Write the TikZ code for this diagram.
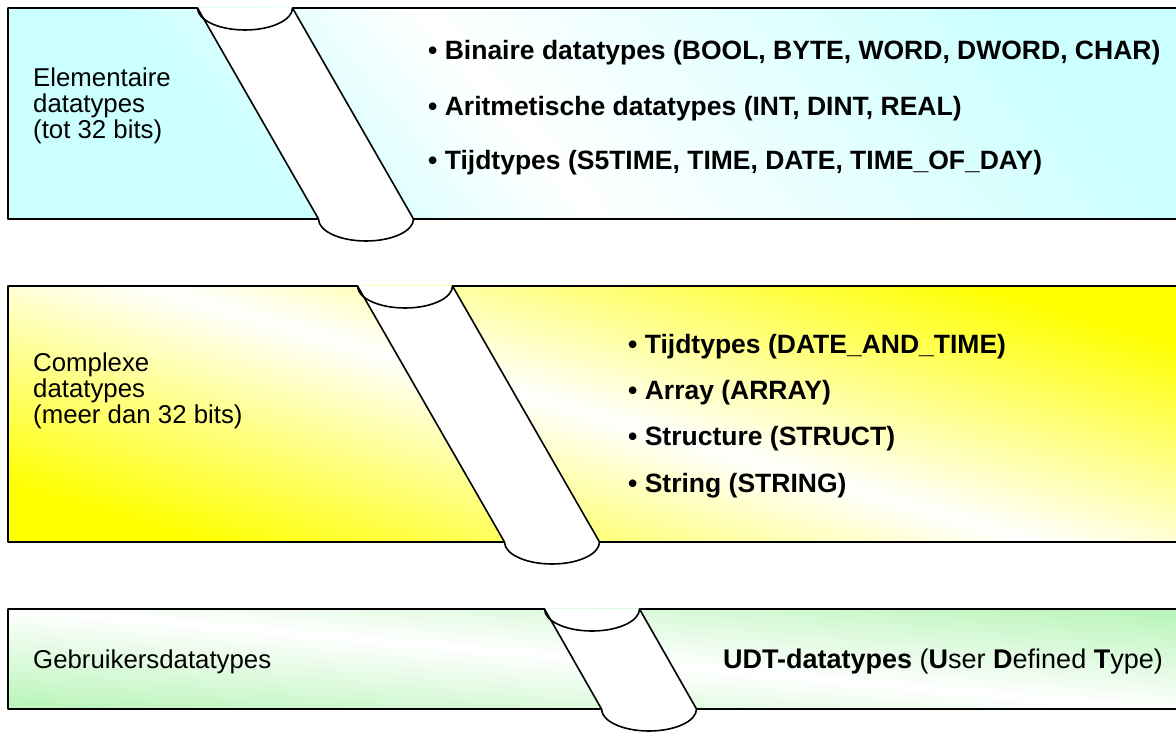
\documentclass[tikz,border=0pt]{standalone}
\usepackage{fontspec}
\setmainfont{Liberation Sans}
\definecolor{cyanC}{HTML}{CCFFFF}
\definecolor{yellowC}{HTML}{FFFF00}
\definecolor{greenC}{HTML}{BDF5BD}
\pgfdeclareverticalshading{blueband}{100bp}{color(0bp)=(cyanC); color(30bp)=(cyanC); color(45.5bp)=(white); color(76bp)=(cyanC); color(100bp)=(cyanC)}
\pgfdeclareverticalshading{yellowband}{100bp}{color(0bp)=(yellowC); color(25bp)=(yellowC); color(50bp)=(white); color(75bp)=(yellowC); color(100bp)=(yellowC)}
\pgfdeclareverticalshading{greenband}{100bp}{color(0bp)=(greenC); color(25bp)=(greenC); color(50bp)=(white); color(75bp)=(greenC); color(100bp)=(greenC)}
\newcommand\tubeband[5]{%
  \shade[#5] (8,#2) rectangle (1176,#1);
  \fill[white] (#3-47.5,#1) -- (#4-47.5,#2) arc[start angle=180,end angle=360,x radius=47.5,y radius=22] -- (#3+47.5,#1) -- cycle;
  \draw[edge] (1176,#1) -- (#3+47.5,#1) arc[start angle=0,end angle=-180,x radius=47.5,y radius=22] -- (8,#1) -- (8,#2) -- (#4-47.5,#2) arc[start angle=180,end angle=360,x radius=47.5,y radius=22] -- (1176,#2);
  \draw[edge] (#3-47.5,#1) -- (#4-47.5,#2);
  \draw[edge] (#3+47.5,#1) -- (#4+47.5,#2);
}
\begin{document}
\begin{tikzpicture}[x=1pt,y=1pt,
  edge/.style={line width=1.6pt, line join=round, draw=black},
  lbl/.style={anchor=west, inner sep=0pt, align=left, font=\fontsize{25.8}{25.8}\selectfont},
  item/.style={anchor=west, inner sep=0pt, font=\fontsize{26.5}{28}\selectfont\bfseries},
  bluefill/.style={shading=blueband, shading angle=-50},
  yellowfill/.style={shading=yellowband, shading angle=-16},
  greenfill/.style={shading=greenband, shading angle=-5},
]
\useasboundingbox (0,0) rectangle (1176,753);
\fill[white] (0,0) rectangle (1176,753);
% band 1 (blue)
\tubeband{745}{534}{245}{366}{bluefill}
% band 2 (yellow)
\tubeband{467}{211}{405}{552}{yellowfill}
% band 3 (green)
\tubeband{144}{44}{592}{649}{greenfill}

\node[lbl] (l1) at (33,647) {Elementaire\\datatypes\\(tot 32 bits)};
\node[item] (b1) at (428,700) {• Binaire datatypes (BOOL, BYTE, WORD, DWORD, CHAR)};
\node[item] (b2) at (428,644) {• Aritmetische datatypes (INT, DINT, REAL)};
\node[item] (b3) at (428,590) {• Tijdtypes (S5TIME, TIME, DATE, TIME\_OF\_DAY)};

\node[lbl] (l2) at (33,362) {Complexe\\datatypes\\(meer dan 32 bits)};
\node[item] (y1) at (628,406) {• Tijdtypes (DATE\_AND\_TIME)};
\node[item] (y2) at (628,360) {• Array (ARRAY)};
\node[item] (y3) at (628,314) {• Structure (STRUCT)};
\node[item] (y4) at (628,267) {• String (STRING)};

\node[lbl] (l3) at (33,91) {Gebruikersdatatypes};
\node[lbl, anchor=east, font=\fontsize{27}{28}\selectfont] (g1) at (1163,91) {\textbf{UDT-datatypes} (\textbf{U}ser \textbf{D}efined \textbf{T}ype)};
\end{tikzpicture}
\end{document}
